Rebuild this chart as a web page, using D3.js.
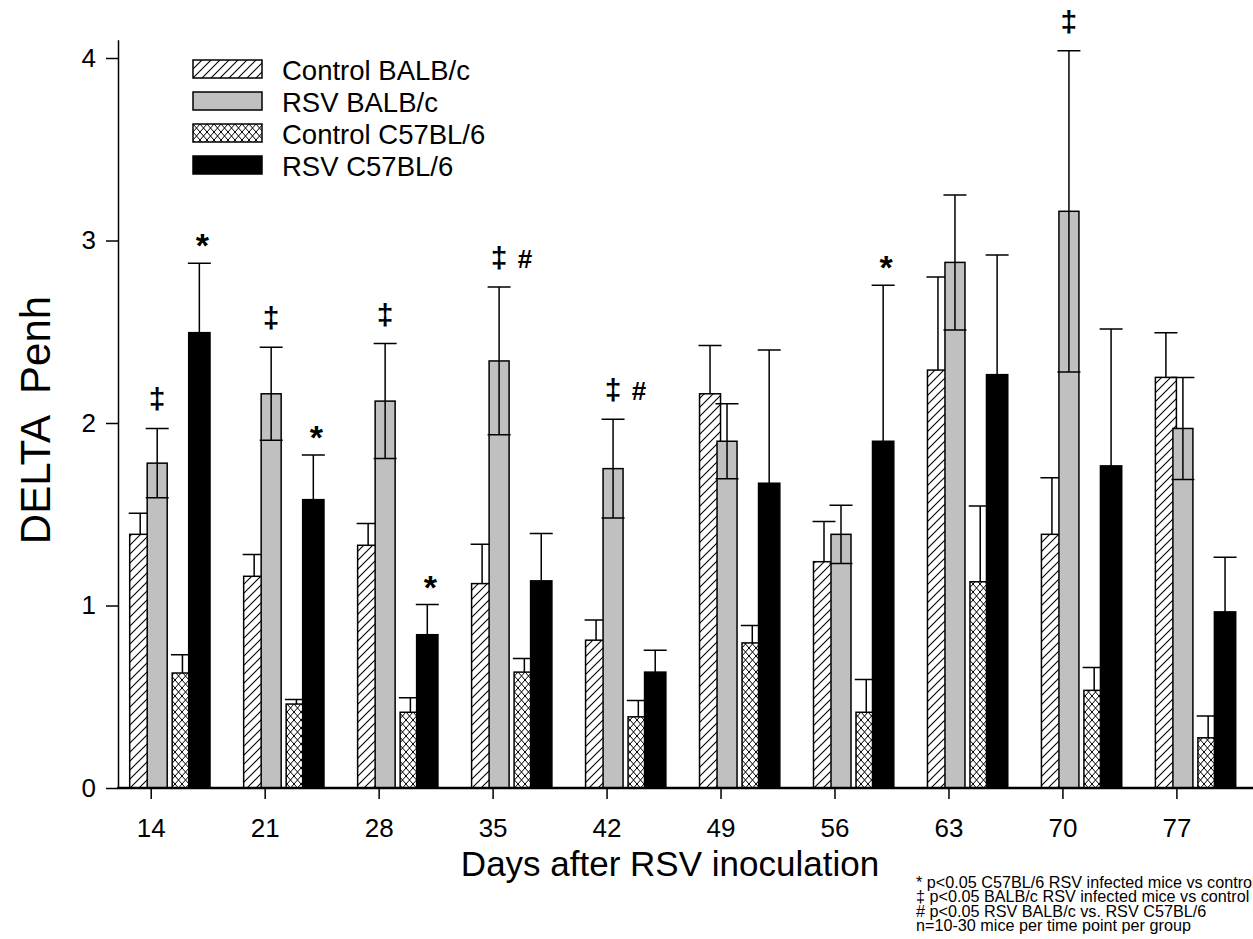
<!DOCTYPE html>
<meta charset="utf-8">
<style>
body { margin: 0; background: #fff; }
svg { display: block; font-family: "Liberation Sans", Arial, sans-serif; }
.axis line { stroke: #000; stroke-width: 1.5px; }
.axis--y path { stroke: #000; stroke-width: 1.5px; fill: none; }
.axis--x path { display: none; }
.axis text { font-size: 26px; fill: #000; font-family: "Liberation Sans", Arial, sans-serif; }
.bar { stroke: #000; stroke-width: 1.5px; }
.err { stroke: #000; stroke-width: 1.5px; fill: none; }
.sig { font-size: 30px; font-weight: bold; text-anchor: middle; }
.legend text { font-size: 27.5px; }
.note { font-size: 16.2px; }
</style>
<svg width="1253" height="939"></svg>
<script src="https://d3js.org/d3.v7.min.js"></script>
<script>

// days after inoculation
var days = [14, 21, 28, 35, 42, 49, 56, 63, 70, 77];

// mean DELTA Penh and SEM per group
var ctrlBalb    = [1.39, 1.16, 1.33, 1.12, 0.81, 2.16, 1.24, 2.29, 1.39, 2.25];
var ctrlBalbErr = [0.115, 0.12, 0.12, 0.215, 0.11, 0.265, 0.22, 0.51, 0.31, 0.245];
var rsvBalb     = [1.78, 2.16, 2.12, 2.34, 1.75, 1.90, 1.39, 2.88, 3.16, 1.97];
var rsvBalbErr  = [0.19, 0.255, 0.315, 0.405, 0.27, 0.205, 0.16, 0.37, 0.88, 0.28];
var ctrlC57     = [0.63, 0.46, 0.415, 0.635, 0.39, 0.795, 0.415, 1.13, 0.535, 0.275];
var ctrlC57Err  = [0.10, 0.025, 0.08, 0.075, 0.09, 0.095, 0.18, 0.415, 0.125, 0.12];
var rsvC57      = [2.495, 1.58, 0.84, 1.135, 0.635, 1.67, 1.90, 2.265, 1.765, 0.965];
var rsvC57Err   = [0.38, 0.245, 0.165, 0.26, 0.12, 0.73, 0.855, 0.655, 0.75, 0.30];

// significance marks (1 = shown)
var sigC57    = [1, 1, 1, 0, 0, 0, 1, 0, 0, 0];   // * on RSV C57BL/6
var sigBalb   = [1, 1, 1, 1, 1, 0, 0, 0, 1, 0];   // ‡ on RSV BALB/c
var sigStrain = [0, 0, 0, 1, 1, 0, 0, 0, 0, 0];   // # RSV BALB/c vs RSV C57BL/6

var yTicks = [0, 1, 2, 3, 4];

var notes = [
  "* p<0.05  C57BL/6 RSV infected mice vs control",
  "\u2021 p<0.05 BALB/c RSV infected mice vs control",
  "# p<0.05 RSV BALB/c vs. RSV C57BL/6",
  "n=10-30 mice per time point per group"
];

var svg = d3.select("svg");

var x = d3.scaleLinear().domain([14, 77]).range([150.7, 1176.4]),
    y = d3.scaleLinear().domain([0, 4.1]).range([788, 39.75]);

// patterns
var defs = svg.append("defs");
var hatch = defs.append("pattern")
    .attr("id", "hatch")
    .attr("patternUnits", "userSpaceOnUse")
    .attr("width", 9).attr("height", 9);
hatch.append("rect").attr("width", 9).attr("height", 9).attr("fill", "#fff");
hatch.append("path")
    .attr("d", "M0,9 L9,0 M-1,1 L1,-1 M8,10 L10,8")
    .attr("stroke", "#000").attr("stroke-width", 1.1);

var cross = defs.append("pattern")
    .attr("id", "cross")
    .attr("patternUnits", "userSpaceOnUse")
    .attr("width", 7).attr("height", 8);
cross.append("rect").attr("width", 7).attr("height", 8).attr("fill", "#fff");
cross.append("path")
    .attr("d", "M0,0 L7,8 M7,0 L0,8")
    .attr("stroke", "#000").attr("stroke-width", 1);

var series = [
  {name: "Control BALB/c",  values: ctrlBalb, err: ctrlBalbErr, fill: "url(#hatch)", x0: -21,  w: 21,   lower: false},
  {name: "RSV BALB/c",      values: rsvBalb,  err: rsvBalbErr,  fill: "#c0c0c0",     x0: -3.5, w: 20,   lower: true},
  {name: "Control C57BL/6", values: ctrlC57,  err: ctrlC57Err,  fill: "url(#cross)", x0: 21.5, w: 20.5, lower: false},
  {name: "RSV C57BL/6",     values: rsvC57,   err: rsvC57Err,   fill: "#000",        x0: 38,   w: 21.3, lower: false}
];

var cap = 11.5;

// bars, drawn group by group so neighbours overlap like the original
var groups = svg.selectAll(".day")
    .data(days)
    .enter().append("g")
      .attr("class", "day");

groups.each(function(day, i) {
  var g = d3.select(this);
  series.forEach(function(s) {
    var left = x(day) + s.x0,
        cx = left + s.w / 2,
        v = s.values[i],
        e = s.err[i];
    g.append("rect")
        .attr("class", "bar")
        .attr("x", left)
        .attr("y", y(v))
        .attr("width", s.w)
        .attr("height", y(0) - y(v))
        .attr("fill", s.fill);
    var lo = s.lower ? v - e : v;
    g.append("path")
        .attr("class", "err")
        .attr("d", "M" + cx + "," + y(lo) + "V" + y(v + e) +
                   "M" + (cx - cap) + "," + y(v + e) + "H" + (cx + cap) +
                   (s.lower ? "M" + (cx - cap) + "," + y(v - e) + "H" + (cx + cap) : ""));
  });
});

// significance marks
var gray = series[1], blk = series[3];
days.forEach(function(day, i) {
  var gx = x(day) + gray.x0 + gray.w / 2,
      bx = x(day) + blk.x0 + blk.w / 2;
  if (sigBalb[i]) {
    svg.append("text").attr("class", "sig")
        .attr("x", gx).attr("y", y(rsvBalb[i] + rsvBalbErr[i]) - 19)
        .text("\u2021");
  }
  if (sigStrain[i]) {
    svg.append("text").attr("class", "sig")
        .style("font-size", "26px")
        .attr("x", gx + 26).attr("y", y(rsvBalb[i] + rsvBalbErr[i]) - 19)
        .text("#");
  }
  if (sigC57[i]) {
    svg.append("text").attr("class", "sig")
        .style("font-size", "34px")
        .attr("x", bx + 3).attr("y", y(rsvC57[i] + rsvC57Err[i]) - 6)
        .text("*");
  }
});

// axes
svg.append("g")
    .attr("class", "axis axis--y")
    .attr("transform", "translate(118,0)")
    .call(d3.axisLeft(y).tickValues(yTicks).tickFormat(d3.format("d"))
          .tickSize(12).tickSizeOuter(0).tickPadding(10));

svg.append("g")
    .attr("class", "axis axis--x")
    .attr("transform", "translate(0," + y(0) + ")")
    .call(d3.axisBottom(x).tickValues(days).tickFormat(d3.format("d"))
          .tickSize(11).tickSizeOuter(0).tickPadding(20));

svg.append("line")
    .attr("x1", 117).attr("x2", 1260)
    .attr("y1", y(0)).attr("y2", y(0))
    .attr("stroke", "#000").attr("stroke-width", 2.5);

// axis titles
svg.append("text")
    .attr("x", 670).attr("y", 876)
    .attr("text-anchor", "middle")
    .style("font-size", "35px")
    .text("Days after RSV inoculation");

svg.append("text")
    .attr("transform", "translate(50,420) rotate(-90)")
    .attr("text-anchor", "middle")
    .style("font-size", "42px")
    .style("white-space", "pre")
    .text("DELTA  Penh");

// legend
var legend = svg.append("g").attr("class", "legend");
var row = legend.selectAll("g")
    .data(series)
    .enter().append("g")
      .attr("transform", function(d, i) { return "translate(193," + (60 + i * 32) + ")"; });
row.append("rect")
    .attr("width", 69).attr("height", 18)
    .attr("fill", function(d) { return d.fill; })
    .attr("stroke", "#000").attr("stroke-width", 1.5);
row.append("text")
    .attr("x", 89).attr("y", 10).attr("dy", "0.35em")
    .text(function(d) { return d.name; });

// footnotes (first line runs past the right edge, as in the original)
svg.selectAll(".note")
    .data(notes)
    .enter().append("text")
      .attr("class", "note")
      .attr("x", 916)
      .attr("y", function(d, i) { return 887.5 + i * 14.6; })
      .text(function(d) { return d; });

</script>
